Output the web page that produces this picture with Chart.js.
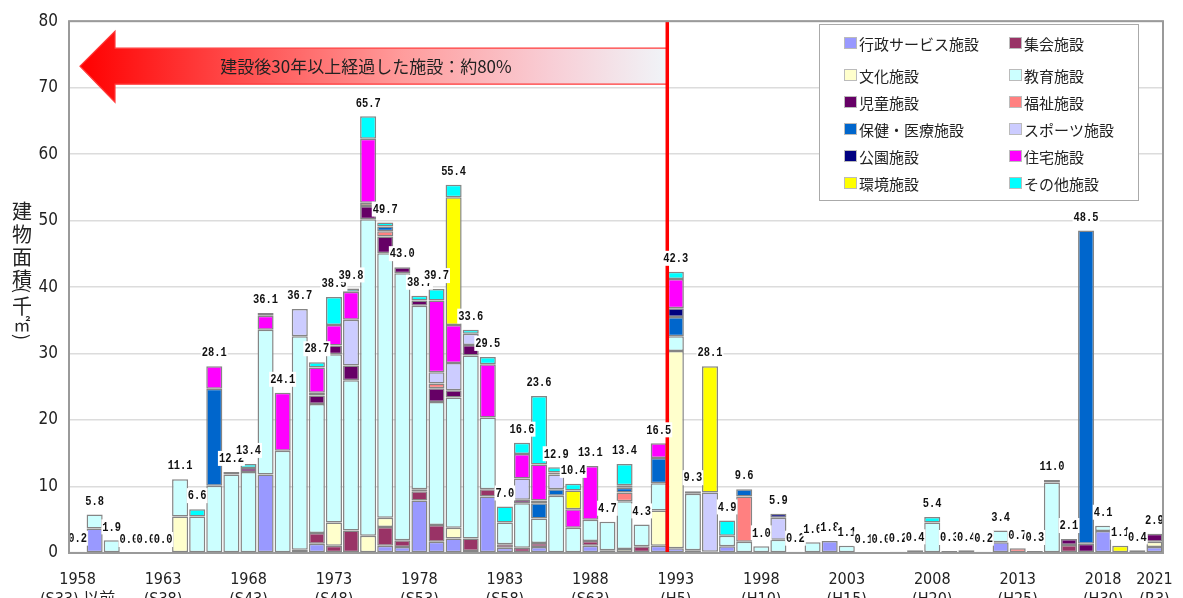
<!DOCTYPE html>
<html lang="ja">
<head>
<meta charset="utf-8">
<script src="https://cdn.jsdelivr.net/npm/chart.js@4"></script>
<style>
  body { margin: 0; background: #fff; }
  canvas { display: block; }
</style>
</head>
<body>
<canvas id="grafico" width="1183" height="598"></canvas>
<script>
// 年度 (1958〜2021)
const years = Array.from({ length: 64 }, (_, i) => 1958 + i);
const tickYears = [1958, 1963, 1968, 1973, 1978, 1983, 1988, 1993, 1998, 2003, 2008, 2013, 2018, 2021];
const eraLabels = ['(S33) 以前', '(S38)', '(S43)', '(S48)', '(S53)', '(S58)', '(S63)', '(H5)', '(H10)', '(H15)', '(H20)', '(H25)', '(H30)', '(R3)'];

// 棒の上の合計値（千㎡）
const totals = [
  0.2, 5.8, 1.9, 0.0, 0.0, 0.0, 11.1, 6.6, 28.1, 12.2,
  13.4, 36.1, 24.1, 36.7, 28.7, 38.5, 39.8, 65.7, 49.7, 43.0,
  38.7, 39.7, 55.4, 33.6, 29.5, 7.0, 16.6, 23.6, 12.9, 10.4,
  13.1, 4.7, 13.4, 4.3, 16.5, 42.3, 9.3, 28.1, 4.9, 9.6,
  1.0, 5.9, 0.2, 1.6, 1.8, 1.1, 0.1, 0.0, 0.2, 0.4,
  5.4, 0.3, 0.4, 0.2, 3.4, 0.7, 0.3, 11.0, 2.1, 48.5,
  4.1, 1.1, 0.4, 2.9
];

// 施設分類ごとの面積（千㎡）
const gyosei = [
  0.2, 3.7, 0, 0, 0, 0, 0, 0, 0, 0,
  0, 11.8, 0, 0, 1.4, 0, 0, 0, 1.1, 0.9,
  7.9, 1.7, 2.2, 0.3, 8.5, 0.8, 0, 0.9, 0, 0,
  1.1, 0, 0, 0, 1.1, 0.7, 0.4, 0.2, 1.0, 0,
  0, 0, 0, 0, 1.8, 0, 0, 0, 0, 0,
  0, 0, 0, 0, 1.6, 0, 0, 0, 0, 0,
  3.3, 0, 0, 0.9
];
const shukai = [
  0, 0, 0, 0, 0, 0, 0, 0, 0, 0,
  0, 0, 0, 0, 1.6, 1.1, 3.4, 0, 2.8, 1.0,
  1.4, 2.5, 0, 1.9, 1.1, 0.5, 0.8, 0.6, 0, 0,
  0.7, 0, 0, 1.0, 0, 0, 0, 0, 0, 0,
  0, 0, 0, 0, 0, 0, 0, 0, 0, 0,
  0, 0, 0, 0, 0, 0, 0, 0, 1.2, 0,
  0, 0, 0, 0
];
const bunka = [
  0, 0, 0, 0, 0, 0, 5.5, 0, 0, 0,
  0, 0, 0, 0.5, 0, 3.5, 0, 2.6, 1.4, 0,
  0.3, 0, 1.6, 0, 0, 0, 0, 0, 0, 0,
  0, 0.4, 0.6, 0, 5.3, 29.7, 0, 0, 0, 0,
  0, 0, 0, 0, 0, 0, 0, 0, 0, 0,
  0, 0, 0, 0, 0, 0, 0, 0, 0, 0,
  0, 0, 0, 0.8
];
const kyoiku = [
  0, 2.1, 1.9, 0, 0, 0, 5.6, 5.5, 10.1, 11.8,
  12.2, 21.8, 15.4, 32.1, 19.4, 25.3, 22.6, 47.6, 39.8, 40.2,
  27.6, 18.5, 19.6, 27.5, 10.8, 3.3, 6.7, 3.7, 8.6, 3.8,
  3.2, 4.3, 7.2, 3.3, 4.1, 2.2, 8.5, 0, 1.6, 1.7,
  1.0, 2.0, 0.2, 1.6, 0, 1.1, 0.1, 0, 0.2, 0.4,
  4.6, 0, 0.4, 0.2, 1.8, 0, 0.3, 10.6, 0, 0,
  0.8, 0, 0, 0
];
const jido = [
  0, 0, 0, 0, 0, 0, 0, 0, 0, 0.4,
  0.6, 0, 0, 0, 1.3, 1.3, 2.2, 2.0, 2.5, 0.9,
  0.8, 2.1, 1.1, 1.6, 0, 0, 0.5, 0, 0, 0,
  0, 0, 0, 0, 0, 0, 0, 0, 0, 0,
  0, 0, 0, 0, 0, 0, 0, 0, 0, 0,
  0, 0.3, 0, 0, 0, 0, 0, 0.4, 0.9, 1.4,
  0, 0, 0.4, 1.2
];
const fukushi = [
  0, 0, 0, 0, 0, 0, 0, 0, 0, 0,
  0, 0, 0, 0, 0, 0, 0, 0.5, 0.8, 0,
  0, 0.7, 0, 0, 0, 0, 0, 0, 0, 0,
  0, 0, 1.3, 0, 0, 0, 0, 0, 0, 6.8,
  0, 0, 0, 0, 0, 0, 0, 0, 0, 0,
  0, 0, 0, 0, 0, 0.7, 0, 0, 0, 0,
  0, 0, 0, 0
];
const hoken = [
  0, 0, 0, 0, 0, 0, 0, 0, 14.6, 0,
  0, 0, 0, 0, 0, 0, 0, 0, 0.7, 0,
  0, 0, 0, 0, 0, 0, 0, 2.3, 1.0, 0,
  0, 0, 0.7, 0, 3.8, 2.9, 0, 0, 0, 1.1,
  0, 0, 0, 0, 0, 0, 0, 0, 0, 0,
  0, 0, 0, 0, 0, 0, 0, 0, 0, 47.1,
  0, 0, 0, 0
];
const sports = [
  0, 0, 0, 0, 0, 0, 0, 0, 0, 0,
  0, 0, 0, 4.1, 0.4, 0, 6.9, 0, 0, 0,
  0, 1.7, 4.1, 1.7, 0, 0, 3.2, 0, 2.2, 0,
  0, 0, 0, 0, 0, 0, 0, 8.9, 0, 0,
  0, 3.3, 0, 0, 0, 0, 0, 0, 0, 0,
  0, 0, 0, 0, 0, 0, 0, 0, 0, 0,
  0, 0, 0, 0
];
const koen = [
  0, 0, 0, 0, 0, 0, 0, 0, 0, 0,
  0, 0, 0, 0, 0, 0, 0, 0, 0, 0,
  0, 0, 0, 0, 0, 0, 0, 0.4, 0.3, 0,
  0, 0, 0, 0, 0, 1.3, 0.4, 0, 0, 0,
  0, 0.6, 0, 0, 0, 0, 0, 0, 0, 0,
  0, 0, 0, 0, 0, 0, 0, 0, 0, 0,
  0, 0, 0, 0
];
const jutaku = [
  0, 0, 0, 0, 0, 0, 0, 0, 3.4, 0,
  0, 2.1, 8.7, 0, 3.8, 3.1, 4.2, 9.6, 0, 0,
  0, 10.8, 5.7, 0, 8.0, 0, 3.7, 5.4, 0, 2.8,
  8.1, 0, 0, 0, 2.2, 4.4, 0, 0, 0, 0,
  0, 0, 0, 0, 0, 0, 0, 0, 0, 0,
  0, 0, 0, 0, 0, 0, 0, 0, 0, 0,
  0, 0, 0, 0
];
const kankyo = [
  0, 0, 0, 0, 0, 0, 0, 0, 0, 0,
  0, 0, 0, 0, 0, 0, 0, 0, 0, 0,
  0, 0, 19.2, 0, 0, 0, 0, 0, 0, 2.8,
  0, 0, 0.4, 0, 0, 0, 0, 19.0, 0, 0,
  0, 0, 0, 0, 0, 0, 0, 0, 0, 0,
  0, 0, 0, 0, 0, 0, 0, 0, 0, 0,
  0, 1.1, 0, 0
];
const sonota = [
  0, 0, 0, 0, 0, 0, 0, 1.1, 0, 0,
  0.6, 0.4, 0, 0, 0.8, 4.2, 0.5, 3.4, 0.6, 0,
  0.7, 1.7, 1.9, 0.6, 1.1, 2.4, 1.7, 10.3, 0.8, 1.0,
  0, 0, 3.2, 0, 0, 1.1, 0, 0, 2.3, 0,
  0, 0, 0, 0, 0, 0, 0, 0, 0, 0,
  0.8, 0, 0, 0, 0, 0, 0, 0, 0, 0,
  0, 0, 0, 0
];

const series = [
  { label: '行政サービス施設', data: gyosei,  color: '#9999FF' },
  { label: '集会施設',         data: shukai,  color: '#993366' },
  { label: '文化施設',         data: bunka,   color: '#FFFFCC' },
  { label: '教育施設',         data: kyoiku,  color: '#CCFFFF' },
  { label: '児童施設',         data: jido,    color: '#660066' },
  { label: '福祉施設',         data: fukushi, color: '#FF8080' },
  { label: '保健・医療施設',   data: hoken,   color: '#0066CC' },
  { label: 'スポーツ施設',     data: sports,  color: '#CCCCFF' },
  { label: '公園施設',         data: koen,    color: '#000080' },
  { label: '住宅施設',         data: jutaku,  color: '#FF00FF' },
  { label: '環境施設',         data: kankyo,  color: '#FFFF00' },
  { label: 'その他施設',       data: sonota,  color: '#00FFFF' },
];

const FUENTE_NUM = "'Liberation Sans Narrow', 'DejaVu Sans Condensed', 'Noto Sans CJK JP', sans-serif";
const FUENTE_JP = "'Noto Sans CJK JP', sans-serif";

const xCorte = (x) => (x.getPixelForValue(years.indexOf(1992)) + x.getPixelForValue(years.indexOf(1993))) / 2;

// 1992 と 1993 の間の赤線
const lineaRoja = {
  id: 'lineaRoja',
  afterDatasetsDraw(chart) {
    const { ctx, chartArea: a, scales: { x } } = chart;
    const px = xCorte(x);
    ctx.save();
    ctx.strokeStyle = '#FF0000';
    ctx.lineWidth = 3.5;
    ctx.beginPath();
    ctx.moveTo(px, a.top);
    ctx.lineTo(px, a.bottom);
    ctx.stroke();
    ctx.restore();
  }
};

// 左向きの矢印と注記
const flecha = {
  id: 'flecha',
  beforeDatasetsDraw(chart) {
    const { ctx, chartArea: a, scales: { x } } = chart;
    const xFin = xCorte(x);
    const xPunta = a.left + 11, xCabeza = a.left + 46;
    const yMid = a.top + 45;
    const g = ctx.createLinearGradient(xPunta, 0, xFin, 0);
    g.addColorStop(0, '#FF0000');
    g.addColorStop(0.3, '#FF5555');
    g.addColorStop(0.55, '#FF9C9C');
    g.addColorStop(0.8, '#F8CDD5');
    g.addColorStop(1, '#F0F4F8');
    ctx.save();
    ctx.beginPath();
    ctx.moveTo(xPunta, yMid);
    ctx.lineTo(xCabeza, yMid - 35);
    ctx.lineTo(xCabeza, yMid - 18);
    ctx.lineTo(xFin, yMid - 18);
    ctx.lineTo(xFin, yMid + 18);
    ctx.lineTo(xCabeza, yMid + 18);
    ctx.lineTo(xCabeza, yMid + 36);
    ctx.closePath();
    ctx.fillStyle = g;
    ctx.fill();
    ctx.strokeStyle = '#FF3B3B';
    ctx.lineWidth = 1.2;
    ctx.stroke();
    ctx.fillStyle = '#222';
    ctx.font = `17px ${FUENTE_JP}`;
    ctx.textAlign = 'center';
    ctx.textBaseline = 'middle';
    ctx.fillText('建設後30年以上経過した施設：約80%', 366, yMid);
    ctx.restore();
  }
};

// 棒上の合計値
const totalesArriba = {
  id: 'totalesArriba',
  afterDatasetsDraw(chart) {
    const { ctx, scales: { x, y } } = chart;
    const esc = 0.8;
    ctx.save();
    ctx.font = "bold 13px 'Liberation Mono', 'DejaVu Sans Mono', monospace";
    ctx.textAlign = 'center';
    ctx.textBaseline = 'middle';
    totals.forEach((t, i) => {
      const txt = t.toFixed(1);
      const px = x.getPixelForValue(i);
      const py = y.getPixelForValue(t) - 13;
      const w = ctx.measureText(txt).width * esc;
      ctx.fillStyle = '#fff';
      ctx.fillRect(px - w / 2 - 1, py - 8, w + 2, 15);
      ctx.save();
      ctx.translate(px, py);
      ctx.scale(esc, 1);
      ctx.fillStyle = '#111';
      ctx.fillText(txt, 0, 0);
      ctx.restore();
    });
    ctx.restore();
  }
};

// 枠線・凡例・縦書きの軸タイトル
const marcoYLeyenda = {
  id: 'marcoYLeyenda',
  afterDraw(chart) {
    const { ctx, chartArea: a } = chart;
    ctx.save();
    ctx.strokeStyle = '#9a9a9a';
    ctx.lineWidth = 2;
    ctx.strokeRect(a.left, a.top, a.right - a.left, a.bottom - a.top);

    // 凡例
    ctx.fillStyle = '#fff';
    ctx.fillRect(819.5, 24.5, 319, 176);
    ctx.strokeStyle = '#aaa';
    ctx.lineWidth = 1;
    ctx.strokeRect(819.5, 24.5, 319, 176);
    const filas = [43, 75, 102, 129, 156, 183];
    const cols = [844, 1009];
    ctx.font = `15px ${FUENTE_JP}`;
    ctx.textBaseline = 'middle';
    ctx.textAlign = 'left';
    series.forEach((s, i) => {
      const cx = cols[i % 2], cy = filas[Math.floor(i / 2)];
      ctx.fillStyle = s.color;
      ctx.fillRect(cx, cy - 6, 13, 12);
      ctx.strokeStyle = '#bbb';
      ctx.strokeRect(cx + 0.5, cy - 5.5, 12, 11);
      ctx.fillStyle = '#222';
      ctx.fillText(s.label, cx + 15, cy + 1);
    });

    // 縦書き 建物面積（千㎡）
    ctx.fillStyle = '#222';
    ctx.textAlign = 'center';
    ctx.textBaseline = 'middle';
    ctx.font = `20px ${FUENTE_JP}`;
    [['建', 211], ['物', 234], ['面', 257], ['積', 279], ['千', 306]].forEach(([c, cy]) => ctx.fillText(c, 22, cy));
    ctx.font = `17px ${FUENTE_JP}`;
    ctx.fillText('㎡', 22, 325);
    ctx.font = `18px ${FUENTE_JP}`;
    [['(', 290], [')', 337]].forEach(([c, cy]) => {
      ctx.save();
      ctx.translate(22, cy);
      ctx.rotate(Math.PI / 2);
      ctx.fillText(c, 0, 0);
      ctx.restore();
    });
    ctx.restore();
  }
};

new Chart(document.getElementById('grafico'), {
  type: 'bar',
  data: {
    labels: years,
    datasets: series.map(s => ({
      label: s.label,
      data: s.data.map(v => v === 0 ? null : v),
      backgroundColor: s.color,
      borderColor: '#858585',
      borderWidth: 1.5,
      borderSkipped: false,
      categoryPercentage: 1,
      barPercentage: 0.94,
    })),
  },
  options: {
    responsive: false,
    animation: false,
    layout: { padding: { top: 17, right: 20, left: 0, bottom: 0 } },
    plugins: { legend: { display: false }, tooltip: { enabled: false } },
    scales: {
      x: {
        stacked: true,
        grid: { display: false },
        border: { display: false },
        ticks: {
          autoSkip: false,
          maxRotation: 0,
          padding: 8,
          color: '#222',
          font: { family: FUENTE_NUM, size: 16, lineHeight: 1.3 },
          callback(value, index) {
            const k = tickYears.indexOf(years[index]);
            return k < 0 ? '' : [String(years[index]), eraLabels[k]];
          },
        },
        afterFit(scale) { scale.height = 45; },
      },
      y: {
        stacked: true,
        min: 0,
        max: 80,
        border: { display: false },
        grid: { color: '#dcdcdc', lineWidth: 1.5, drawTicks: false },
        ticks: {
          stepSize: 10,
          padding: 11,
          color: '#222',
          font: { family: FUENTE_NUM, size: 17 },
        },
        afterFit(scale) { scale.width = 69; },
      },
    },
  },
  plugins: [flecha, lineaRoja, totalesArriba, marcoYLeyenda],
});
</script>
</body>
</html>
